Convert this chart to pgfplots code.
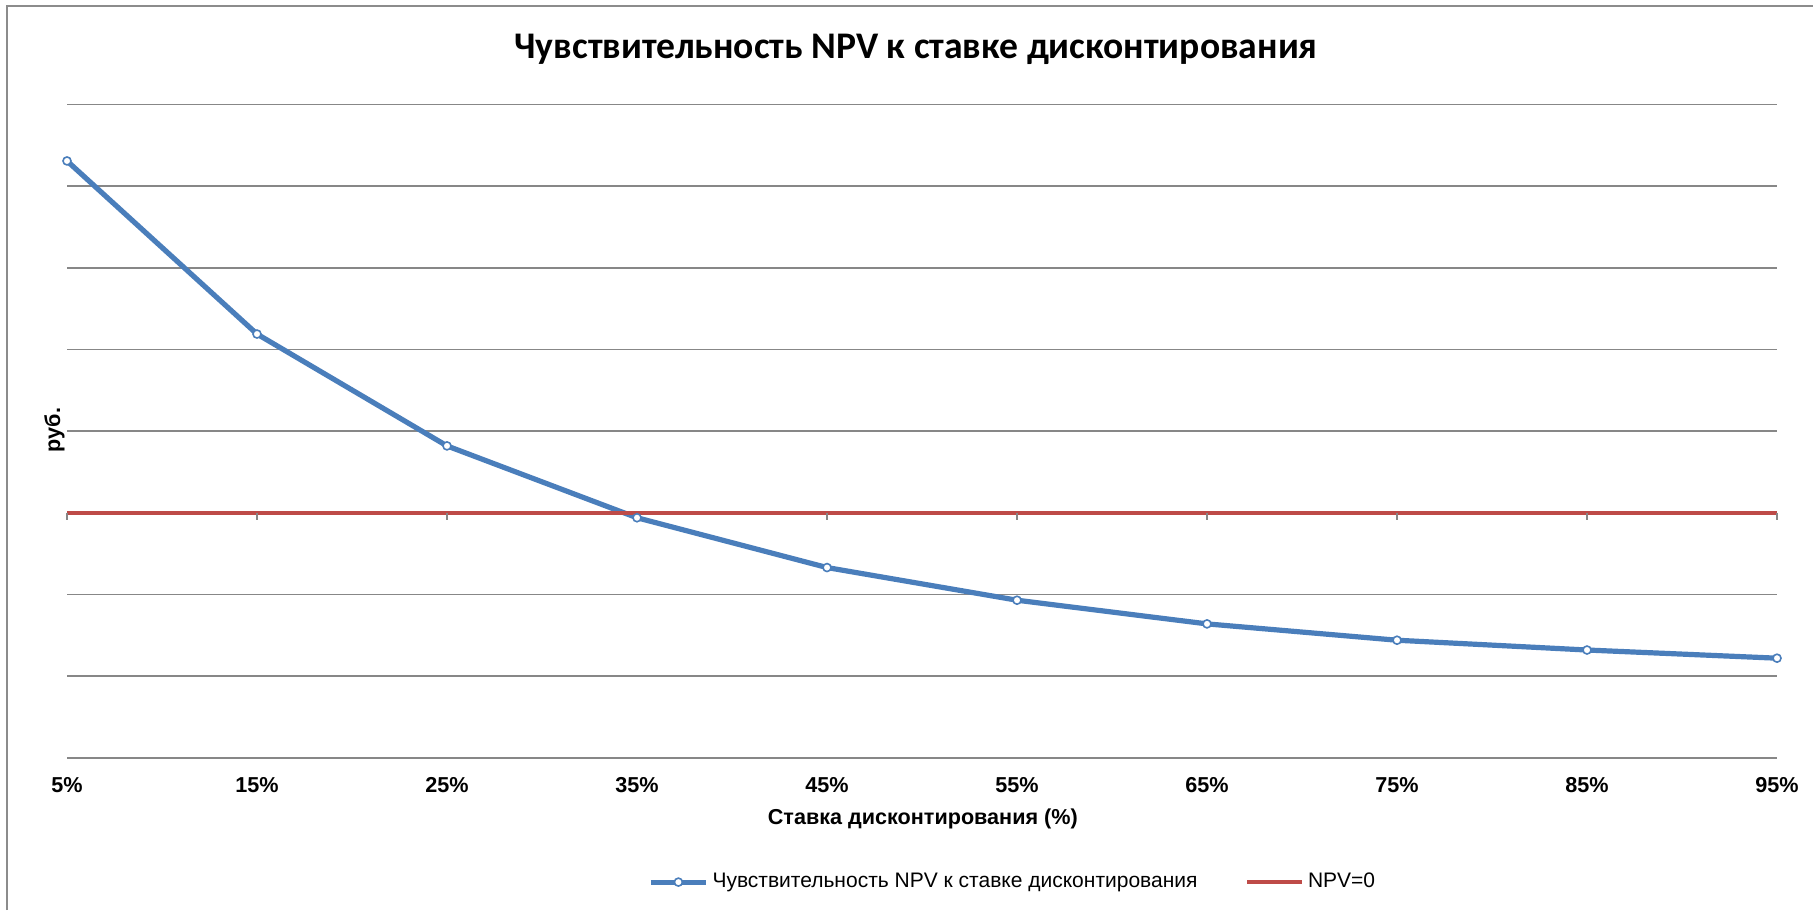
\documentclass[border=0pt]{standalone}
\usepackage{fontspec}
\setmainfont{Liberation Sans}
\newfontfamily\titlefont{Carlito}
\usepackage{pgfplots}
\pgfplotsset{compat=1.18}
\definecolor{npvblue}{HTML}{4A7EBB}
\definecolor{npvred}{HTML}{BE4B48}
\definecolor{gridgray}{HTML}{878787}
\definecolor{framegray}{HTML}{8C8C8C}

\begin{document}
\begin{tikzpicture}
\useasboundingbox (0,0) rectangle (906.5pt,455pt);
\fill[white] (0,0) rectangle (906.5pt,455pt);
\draw[framegray, line width=0.8pt] (3.5pt,0) -- (3.5pt,452pt) -- (906.5pt,452pt);
\begin{axis}[
  at={(33.5pt,76.1pt)}, anchor=south west,
  scale only axis, width=855pt, height=326.6pt,
  xmin=5, xmax=95, ymin=-3, ymax=5,
  xtick={5,15,25,35,45,55,65,75,85,95},
  xticklabels={5\%,15\%,25\%,35\%,45\%,55\%,65\%,75\%,85\%,95\%},
  ytick={-3,-2,-1,1,2,3,4,5}, yticklabels={},
  ymajorgrids, grid style={gridgray, line width=0.8pt},
  axis line style={draw=none},
  major tick length=0pt,
  xticklabel style={font=\bfseries\fontsize{10.8}{12}\selectfont, anchor=base, yshift=-17.4pt},
  clip=false,
  legend columns=2,
  legend style={at={(0.3397,-0.1903)}, anchor=west, draw=none, fill=none,
    inner sep=0pt, font=\fontsize{10.5}{12}\selectfont,
    /tikz/every even column/.append style={column sep=22pt}},
  legend cell align=left,
  legend image code/.code={\draw[mark repeat=2, mark phase=2, #1] plot coordinates {(0pt,0pt) (13.75pt,0pt) (27.5pt,0pt)};},
]
\addplot[npvblue, line width=2.6pt, mark=*, mark size=2pt,
  mark options={fill=white, draw=npvblue, line width=0.8pt}]
  coordinates {(5,4.31) (15,2.19) (25,0.82) (35,-0.06) (45,-0.67) (55,-1.07) (65,-1.36) (75,-1.56) (85,-1.68) (95,-1.78)};
\addlegendentry{Чувствительность NPV к ставке дисконтирования}
\addplot[npvred, line width=1.75pt] coordinates {(5,0) (95,0)};
\addlegendentry{NPV=0}
\pgfplotsinvokeforeach{5,15,25,35,45,55,65,75,85,95}{
  \draw[gridgray, line width=0.8pt] (axis cs:#1,0) -- ([yshift=-3.5pt]axis cs:#1,0);
}
\end{axis}
\node[font=\titlefont\bfseries\fontsize{18.8}{21}\selectfont, anchor=base] at (458pt,425.5pt) {Чувствительность NPV к ставке дисконтирования};
\node[font=\bfseries\fontsize{10.8}{12}\selectfont, anchor=base] at (461.4pt,42.8pt) {Ставка дисконтирования (\%)};
\node[font=\bfseries\fontsize{10.8}{12}\selectfont, rotate=90] at (27.2pt,240pt) {руб.};
\end{tikzpicture}
\end{document}
